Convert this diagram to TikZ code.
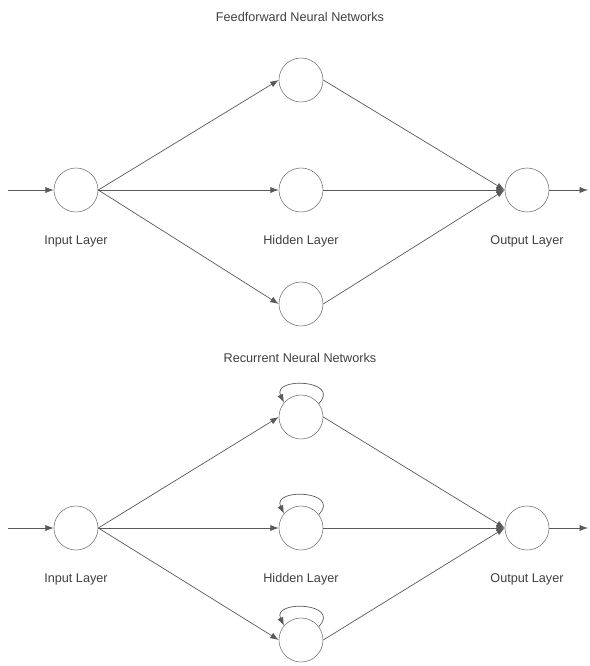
\documentclass[tikz,border=0pt]{standalone}
\usepackage{fontspec}
\setmainfont{Liberation Sans}
\usetikzlibrary{arrows.meta}

\begin{document}
\begin{tikzpicture}[x=0.025cm,y=-0.025cm,
    neuron/.style={circle,draw=black!55,minimum size=1.1cm,inner sep=0pt},
    lbl/.style={text=black!75,font=\fontsize{9}{11}\selectfont},
    conn/.style={draw=black!65,line width=0.5pt,-{Latex[length=6pt,width=4.4pt]}}]
        \useasboundingbox (0,0) rectangle (590,666);

        % FEEDFORWARD
        \node[lbl] (fftitle) at (300,17) {Feedforward Neural Networks};
        \node[neuron] (fin)  at (76,190)  {};
        \node[neuron] (fh1)  at (301,80)  {};
        \node[neuron] (fh2)  at (301,190) {};
        \node[neuron] (fh3)  at (301,304) {};
        \node[neuron] (fout) at (527,190) {};
        \coordinate (fsrc) at (8,190);   % free end of the input arrow
        \coordinate (fdst) at (588,190); % free end of the output arrow
        \node[lbl] (finlbl)  at (76,241)  {Input Layer};
        \node[lbl] (fhidlbl) at (301,241) {Hidden Layer};
        \node[lbl] (foutlbl) at (527,241) {Output Layer};

        % RECURRENT
        \node[lbl] (rntitle) at (300,358) {Recurrent Neural Networks};
        \node[neuron] (rin)  at (76,528)  {};
        \node[neuron] (rh1)  at (301,417) {};
        \node[neuron] (rh2)  at (301,528) {};
        \node[neuron] (rh3)  at (301,640) {};
        \node[neuron] (rout) at (527,528) {};
        \coordinate (rsrc) at (8,528);
        \coordinate (rdst) at (588,528);
        \node[lbl] (rinlbl)  at (76,579)  {Input Layer};
        \node[lbl] (rhidlbl) at (301,579) {Hidden Layer};
        \node[lbl] (routlbl) at (527,579) {Output Layer};

        % ARROWS
        \draw[conn] (fsrc) -- (fin);
        \draw[conn] (fin.east) -- (fh1.west);
        \draw[conn] (fin.east) -- (fh2.west);
        \draw[conn] (fin.east) -- (fh3.west);
        \draw[conn] (fh1.east) -- (fout.west);
        \draw[conn] (fh2.east) -- (fout.west);
        \draw[conn] (fh3.east) -- (fout.west);
        \draw[conn] (fout) -- (fdst);

        \draw[conn] (rsrc) -- (rin);
        \draw[conn] (rin.east) -- (rh1.west);
        \draw[conn] (rin.east) -- (rh2.west);
        \draw[conn] (rin.east) -- (rh3.west);
        \draw[conn] (rh1.east) -- (rout.west);
        \draw[conn] (rh2.east) -- (rout.west);
        \draw[conn] (rh3.east) -- (rout.west);
        \draw[conn] (rout) -- (rdst);

        % self loops
        \draw[conn] (rh1.37) .. controls +(23,-24) and +(-12,-26) .. (rh1.140);
        \draw[conn] (rh2.37) .. controls +(23,-24) and +(-12,-26) .. (rh2.140);
        \draw[conn] (rh3.37) .. controls +(23,-24) and +(-12,-26) .. (rh3.140);
\end{tikzpicture}
\end{document}
